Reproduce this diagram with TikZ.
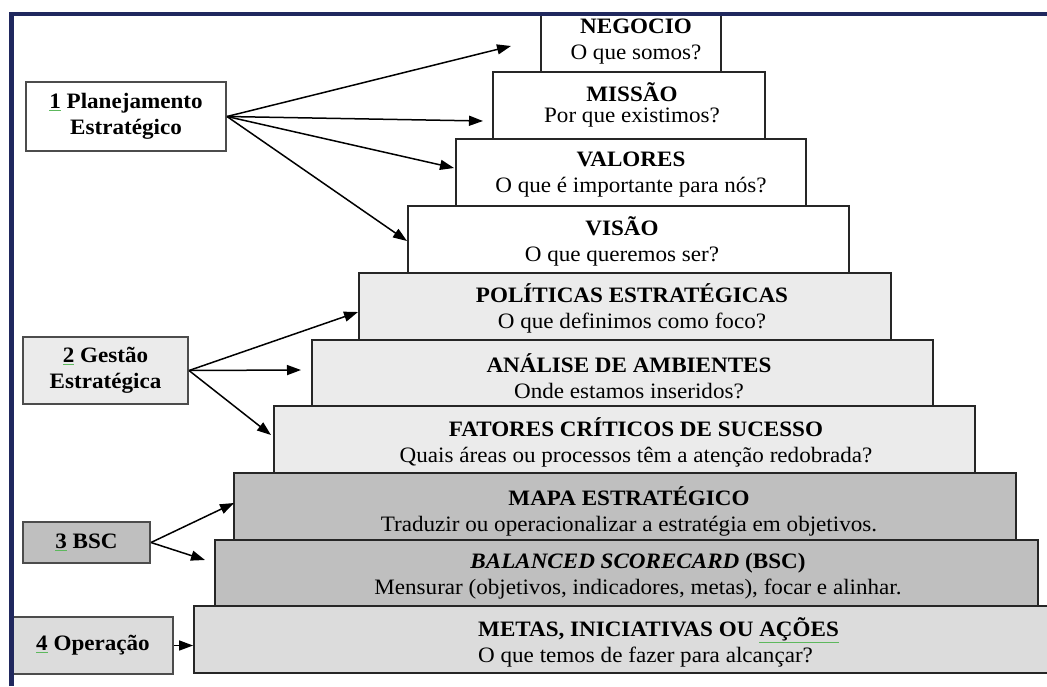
\documentclass[tikz,border=0pt]{standalone}
\usepackage{fontspec}
\setmainfont{Liberation Serif}[FakeStretch=1.05]
\usepackage{xcolor}
\usetikzlibrary{arrows.meta,calc}
\definecolor{framenavy}{HTML}{20285E}
\definecolor{tierlight}{HTML}{EBEBEB}
\definecolor{tierdark}{HTML}{BFBFBF}
\definecolor{tierbase}{HTML}{DCDCDC}
\definecolor{spellgreen}{HTML}{5DB85D}
\newcommand{\gramline}[1]{\textcolor{spellgreen}{\underline{\textcolor{black}{#1}}}}

\begin{document}
\begin{tikzpicture}[x = 1pt, y = -1pt,
  tier/.style = {draw = black!85, line width = 1.8pt, rectangle, inner sep = 0pt},
  tiertext/.style = {align = center, inner sep = 0pt, font = \fontsize{22}{26}\selectfont},
  side/.style = {draw = black!70, line width = 2pt, rectangle, inner sep = 0pt, align = center,
    font = \fontsize{22}{26}\selectfont\bfseries},
  link/.style = {-{Triangle[length = 14pt, width = 10pt]}, line width = 1.5pt}]
  \useasboundingbox (0,0) rectangle (1047,686);

  % pyramid, top to bottom
  \node[tier, fill = white, minimum width = 180, minimum height = 59] (negocio) at (631,42.5) {};
  \node[tier, fill = white, minimum width = 272, minimum height = 67] (missao) at (629,105.5) {};
  \node[tier, fill = white, minimum width = 350, minimum height = 67] (valores) at (631,172.5) {};
  \node[tier, fill = white, minimum width = 441, minimum height = 67] (visao) at (628.5,239.5) {};
  \node[tier, fill = tierlight, minimum width = 532, minimum height = 67] (politicas) at (625,306.5) {};
  \node[tier, fill = tierlight, minimum width = 621, minimum height = 66] (analise) at (622.5,373) {};
  \node[tier, fill = tierlight, minimum width = 701, minimum height = 67] (fatores) at (624.5,439.5) {};
  \node[tier, fill = tierdark, minimum width = 782, minimum height = 67] (mapa) at (625,506.5) {};
  \node[tier, fill = tierdark, minimum width = 823, minimum height = 66] (bsc) at (626.5,573) {};
  \node[tier, fill = tierbase, minimum width = 861, minimum height = 67] (metas) at (624.5,639.5) {};

  \node[tiertext] (negocio-t) at (636,41.5) {\textbf{NEGOCIO}\\O que somos?};
  \node[tiertext, font = \fontsize{22}{21}\selectfont] (missao-t) at (632,105) {\textbf{MISSÃO}\\Por que existimos?};
  \node[tiertext] (valores-t) at (631,175) {\textbf{VALORES}\\O que é importante para nós?};
  \node[tiertext] (visao-t) at (622,241) {\textbf{VISÃO}\\O que queremos ser?};
  \node[tiertext] (politicas-t) at (632,308.5) {\textbf{POLÍTICAS ESTRATÉGICAS}\\O que definimos como foco?};
  \node[tiertext] (analise-t) at (629,376.5) {\textbf{ANÁLISE DE AMBIENTES}\\Onde estamos inseridos?};
  \node[tiertext] (fatores-t) at (636,442) {\textbf{FATORES CRÍTICOS DE SUCESSO}\\Quais áreas ou processos têm a atenção redobrada?};
  \node[tiertext] (mapa-t) at (629,511) {\textbf{MAPA ESTRATÉGICO}\\Traduzir ou operacionalizar a estratégia em objetivos.};
  \node[tiertext] (bsc-t) at (638,576.5) {\textbf{\textit{BALANCED SCORECARD}} \textbf{(BSC)}\\Mensurar (objetivos, indicadores, metas), focar e alinhar.};
  \node[tiertext, align = left, anchor = west] (metas-t) at (478,642.5) {\textbf{METAS, INICIATIVAS OU \gramline{AÇÕES}}\\O que temos de fazer para alcançar?};

  % the four levels on the left
  \node[side, fill = white, minimum width = 200, minimum height = 69] (plan) at (126,116.5) {\gramline{1} Planejamento\\Estratégico};
  \node[side, fill = tierlight, minimum width = 165, minimum height = 67] (gestao) at (105.5,370.5) {\gramline{2} Gestão\\Estratégica};
  \node[side, fill = tierdark, minimum width = 127, minimum height = 41] (bscside) at (86.5,542.5) {\gramline{3} BSC};
  \node[side, fill = tierbase, minimum width = 160, minimum height = 57] (oper) at (93,645.5) {\gramline{4} Operação};

  \coordinate (negocio-in) at (511,46);
  \coordinate (missao-in) at (483,121);
  \coordinate (valores-in) at (454,168);
  \coordinate (visao-in) at (407,241);
  \coordinate (politicas-in) at (358,312);
  \coordinate (analise-in) at (301,370);
  \coordinate (fatores-in) at (271,435);
  \coordinate (mapa-in) at (234,503);
  \coordinate (bsc-in) at (205,560);

  \draw[link] (plan.east) -- (negocio-in);
  \draw[link] (plan.east) -- (missao-in);
  \draw[link] (plan.east) -- (valores-in);
  \draw[link] (plan.east) -- (visao-in);
  \draw[link] (gestao.east) -- (politicas-in);
  \draw[link] (gestao.east) -- (analise-in);
  \draw[link] (gestao.east) -- (fatores-in);
  \draw[link] (bscside.east) -- (mapa-in);
  \draw[link] (bscside.east) -- (bsc-in);
  \draw[link] (oper.east) -- (oper.east -| metas.west);

  % page frame
  \draw[framenavy, line width = 4.5pt] (11.5,686) -- (11.5,14) -- (1047,14);
\end{tikzpicture}
\end{document}
